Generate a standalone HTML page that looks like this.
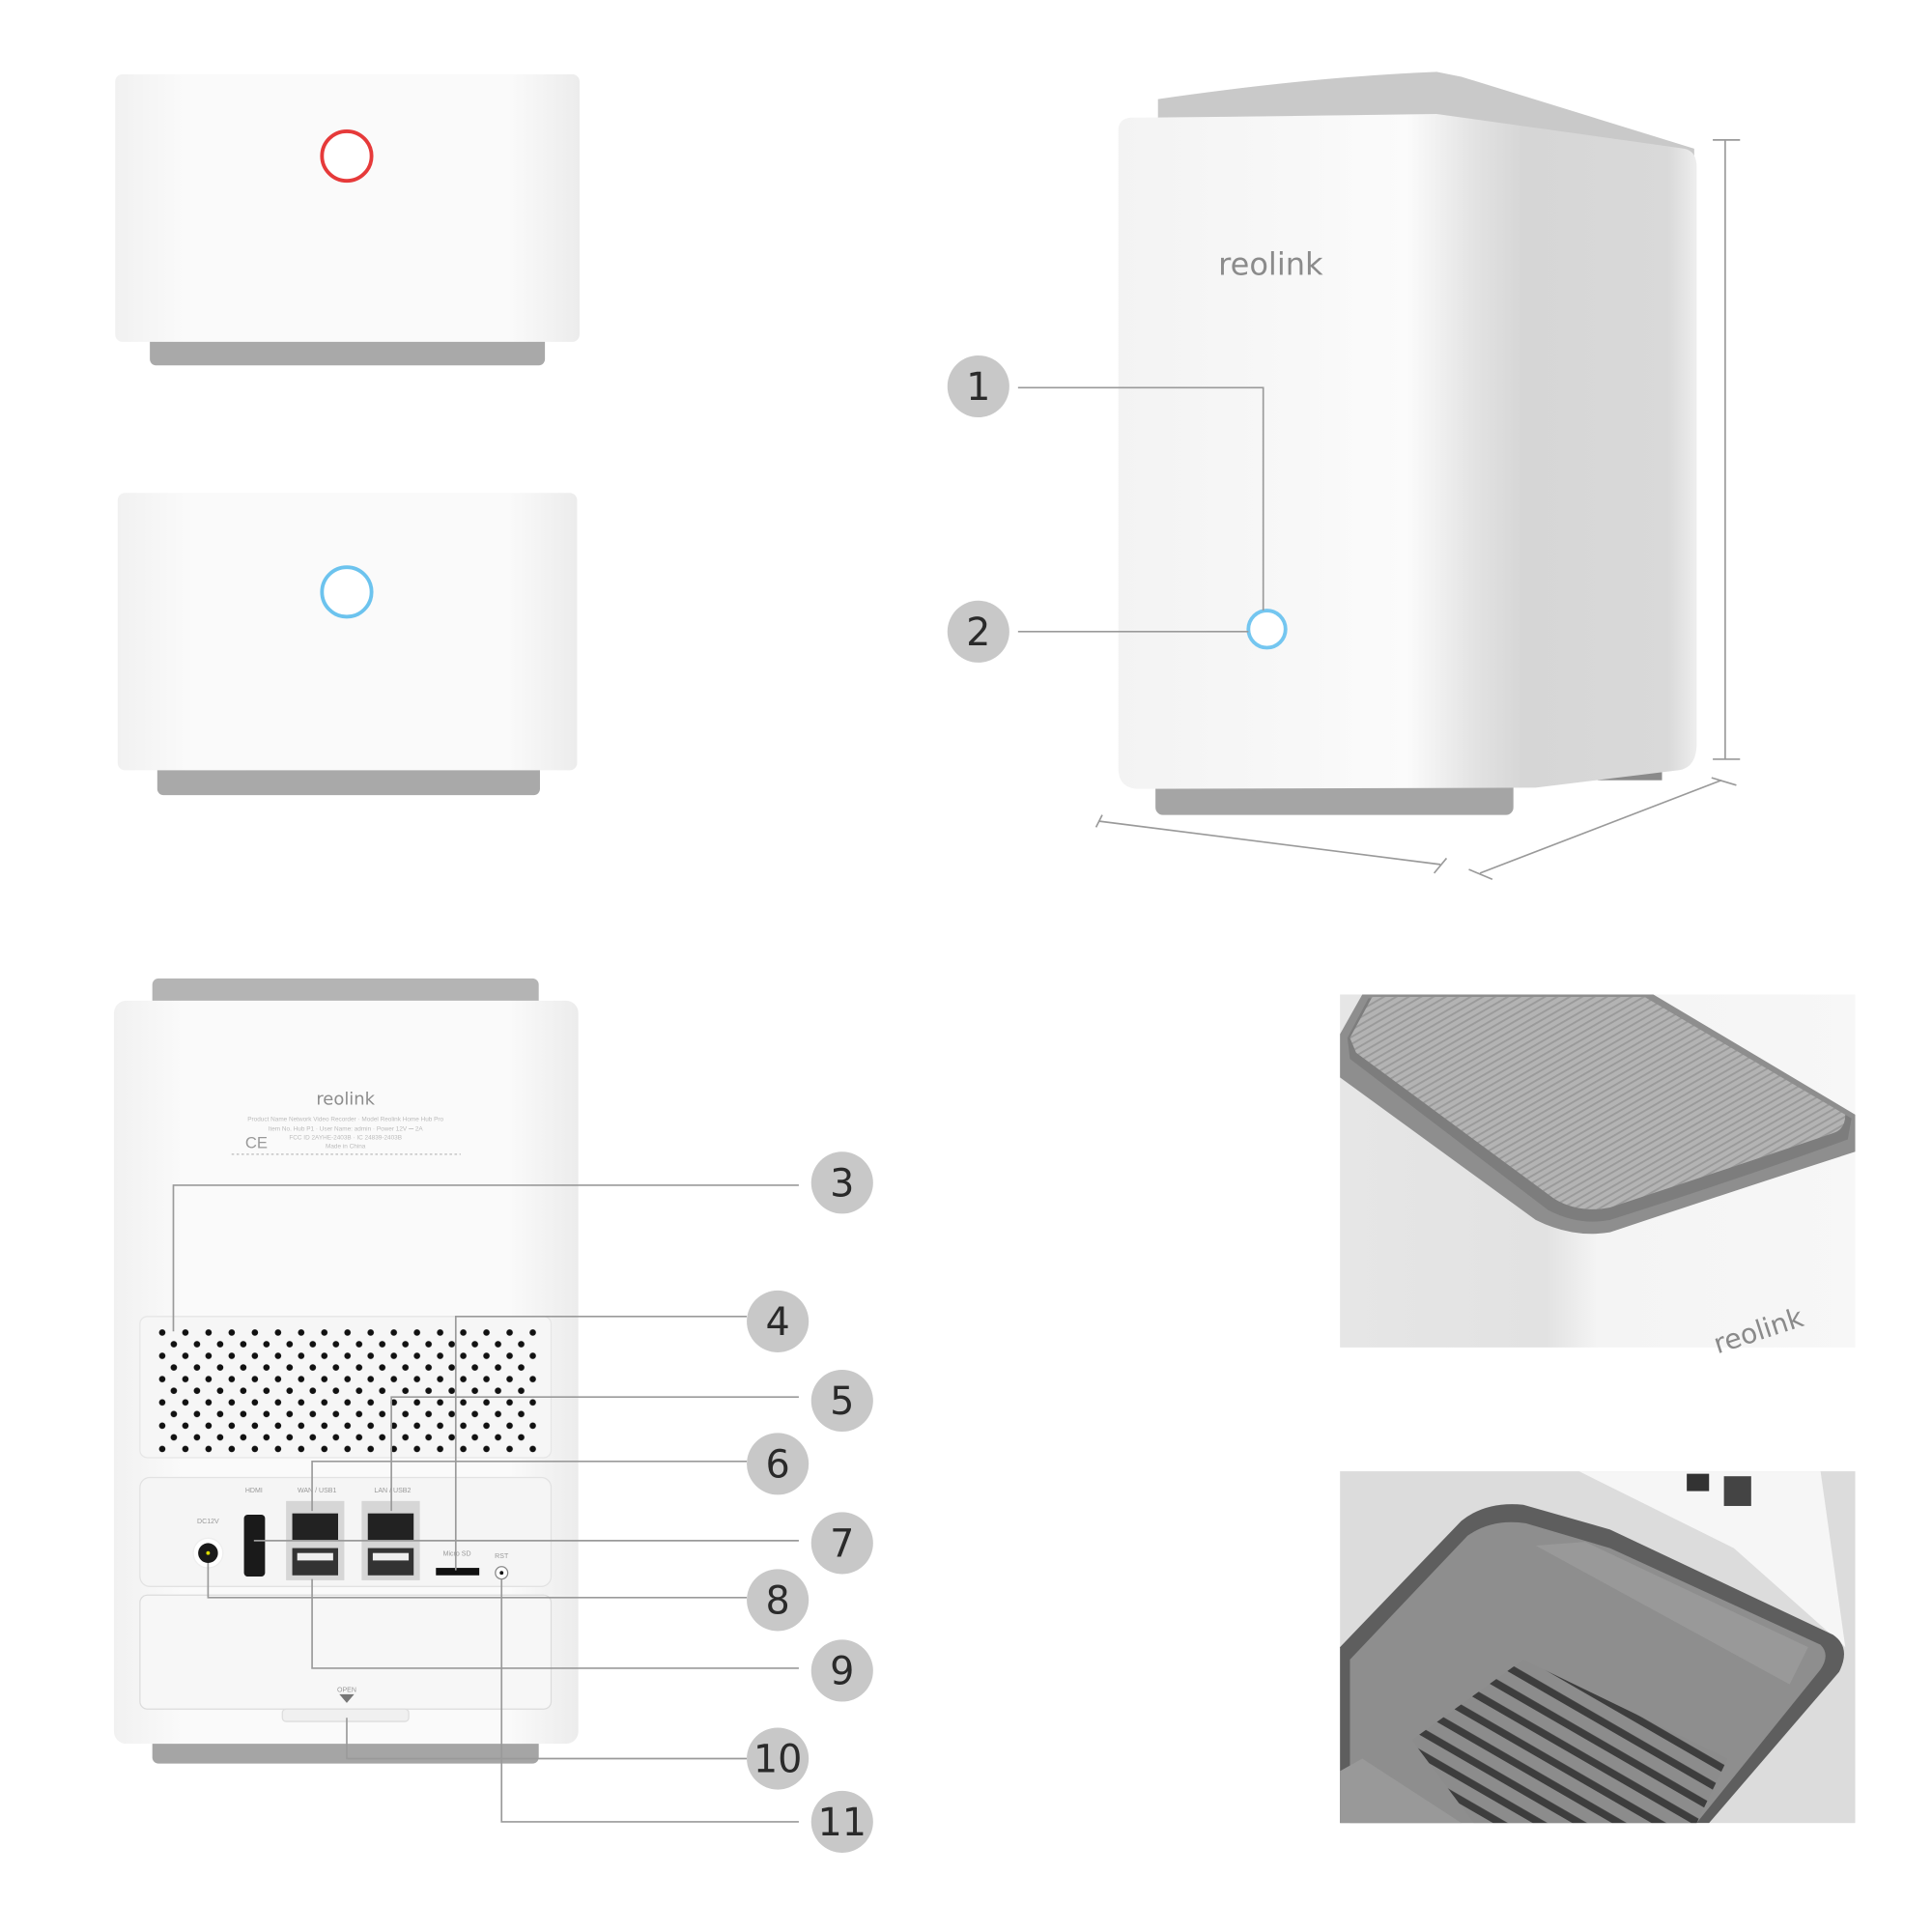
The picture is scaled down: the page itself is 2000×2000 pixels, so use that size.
<!DOCTYPE html>
<html><head><meta charset="utf-8"><style>html,body{margin:0;padding:0;background:#fff}svg{display:block}</style></head>
<body>
<svg width="2000" height="2000" viewBox="0 0 1560 1560" xmlns="http://www.w3.org/2000/svg" font-family="Liberation Sans, sans-serif">
<defs>
<linearGradient id="bx" x1="0" x2="1"><stop offset="0" stop-color="#f1f1f1"/><stop offset="0.15" stop-color="#fafafa"/><stop offset="0.85" stop-color="#fafafa"/><stop offset="1" stop-color="#ececec"/></linearGradient>
<linearGradient id="bigF" x1="0" x2="1"><stop offset="0" stop-color="#f3f3f3"/><stop offset="0.5" stop-color="#fbfbfb"/><stop offset="0.62" stop-color="#e2e2e2"/><stop offset="0.7" stop-color="#d6d6d6"/><stop offset="0.95" stop-color="#d9d9d9"/><stop offset="1" stop-color="#eeeeee"/></linearGradient>
<linearGradient id="ph1" x1="0" x2="1"><stop offset="0" stop-color="#e6e6e6"/><stop offset="0.4" stop-color="#e2e2e2"/><stop offset="0.5" stop-color="#f4f4f4"/><stop offset="1" stop-color="#f7f7f7"/></linearGradient>
<pattern id="dots" width="18.7" height="18.8" patternUnits="userSpaceOnUse" x="128" y="1073">
<circle cx="3" cy="3" r="2.6" fill="#111"/><circle cx="12.35" cy="12.4" r="2.6" fill="#111"/></pattern>
<pattern id="stripe" width="5" height="5" patternUnits="userSpaceOnUse" patternTransform="rotate(60)"><rect width="5" height="5" fill="#b3b3b3"/><rect width="1.5" height="5" fill="#9a9a9a"/></pattern>
<pattern id="bars" width="16" height="16" patternUnits="userSpaceOnUse" patternTransform="rotate(-60)"><rect width="16" height="16" fill="#8c8c8c"/><rect width="6" height="16" fill="#3d3d3d"/></pattern>
</defs>

<!-- Box 1 -->
<rect x="121" y="270" width="319" height="25" rx="5" fill="#a9a9a9"/>
<rect x="93" y="60" width="375" height="216" rx="6" fill="url(#bx)"/>
<circle cx="280" cy="126" r="20" fill="#fff" stroke="#e63a3a" stroke-width="3"/>
<!-- Box 2 -->
<rect x="127" y="616" width="309" height="26" rx="5" fill="#a9a9a9"/>
<rect x="95" y="398" width="371" height="224" rx="6" fill="url(#bx)"/>
<circle cx="280" cy="478" r="20" fill="#fff" stroke="#6cc3ee" stroke-width="3"/>

<!-- Big device -->
<path d="M935 100 L935 80 Q1060 62 1160 58 L1180 62 L1368 120 L1368 135 Z" fill="#c9c9c9"/>
<rect x="1290" y="600" width="52" height="30" fill="#8a8a8a"/>
<rect x="933" y="630" width="289" height="28" rx="6" fill="#a5a5a5"/>
<path d="M913 95 Q1030 94 1160 92 L1360 120 Q1370 122 1370 135 L1370 600 Q1370 620 1355 622 L1240 636 L920 637 Q903 637 903 620 L903 105 Q903 96 913 95 Z" fill="url(#bigF)"/>
<text x="1026" y="222" font-size="25" fill="#8b8b8b" text-anchor="middle" font-family="DejaVu Sans, sans-serif">reolink</text>
<circle cx="1023" cy="508" r="15" fill="#fff" stroke="#74c6f0" stroke-width="3"/>
<g stroke="#9a9a9a" stroke-width="1.3" fill="none">
<path d="M822 313 H1020 V493"/><path d="M822 510 H1008"/>
<path d="M1393 113 V613 M1383 113 H1405 M1383 613 H1405"/>
<path d="M887 663 L1163 698 M885 668 L890 658 M1158 705 L1168 693"/>
<path d="M1195 705 L1390 630 M1186 702 L1205 710 M1382 628 L1402 634"/>
</g>
<g font-family="DejaVu Sans, sans-serif" font-size="31" fill="#2a2a2a" text-anchor="middle">
<circle cx="790" cy="312" r="25" fill="#c8c8c8"/><text x="790" y="323">1</text>
<circle cx="790" cy="510" r="25" fill="#c8c8c8"/><text x="790" y="521">2</text>
</g>

<!-- Back view -->
<rect x="123" y="790" width="312" height="25" rx="5" fill="#b4b4b4"/>
<rect x="123" y="1400" width="312" height="24" rx="5" fill="#a5a5a5"/>
<rect x="92" y="808" width="375" height="600" rx="10" fill="url(#bx)"/>
<text x="279" y="892" font-size="14" fill="#8d8d8d" text-anchor="middle" font-family="DejaVu Sans, sans-serif">reolink</text>
<g font-size="5" fill="#bbb" text-anchor="middle"><text x="279" y="905">Product Name Network Video Recorder · Model Reolink Home Hub Pro</text>
<text x="279" y="913">Item No. Hub P1 · User Name: admin · Power 12V ⎓ 2A</text><text x="279" y="920">FCC ID 2AYHE-2403B · IC 24839-2403B</text><text x="279" y="927">Made in China</text></g>
<text x="198" y="927" font-size="13" fill="#999">CE</text>
<line x1="187" y1="932" x2="372" y2="932" stroke="#bbb" stroke-dasharray="2 2"/>
<rect x="113" y="1063" width="332" height="114" rx="6" fill="#f6f6f6" stroke="#e6e6e6"/>
<rect x="126" y="1070" width="307" height="104" fill="url(#dots)"/>
<rect x="113" y="1193" width="332" height="88" rx="8" fill="#f5f5f5" stroke="#e2e2e2"/>
<rect x="113" y="1288" width="332" height="92" rx="6" fill="#f7f7f7" stroke="#dcdcdc"/>
<rect x="228" y="1380" width="102" height="10" rx="3" fill="#f0f0f0" stroke="#ddd"/>
<g font-size="5.5" fill="#999" text-anchor="middle"><text x="205" y="1205">HDMI</text><text x="256" y="1205">WAN / USB1</text><text x="317" y="1205">LAN / USB2</text><text x="168" y="1230">DC12V</text><text x="369" y="1256">Micro SD</text><text x="405" y="1258">RST</text><text x="280" y="1366">OPEN</text></g>
<path d="M274 1368 L286 1368 L280 1375 Z" fill="#777"/>
<circle cx="168" cy="1254" r="12" fill="#fff" stroke="#eee"/><circle cx="168" cy="1254" r="8" fill="#1a1a1a"/><circle cx="168" cy="1254" r="1.5" fill="#dd0"/>
<rect x="197" y="1223" width="17" height="50" rx="3" fill="#1a1a1a"/>
<rect x="231" y="1212" width="47" height="64" fill="#d6d6d6"/><rect x="236" y="1222" width="37" height="22" fill="#222"/><rect x="236" y="1250" width="37" height="22" fill="#333"/><rect x="240" y="1254" width="29" height="6" fill="#eee"/>
<rect x="292" y="1212" width="47" height="64" fill="#d6d6d6"/><rect x="297" y="1222" width="37" height="22" fill="#222"/><rect x="297" y="1250" width="37" height="22" fill="#333"/><rect x="301" y="1254" width="29" height="6" fill="#eee"/>
<rect x="352" y="1266" width="35" height="6" fill="#111"/>
<circle cx="405" cy="1270" r="5" fill="#fff" stroke="#888"/><circle cx="405" cy="1270" r="1.5" fill="#111"/>
<g stroke="#9a9a9a" stroke-width="1.3" fill="none">
<path d="M645 957 H140 V1075"/>
<path d="M603 1063 H368 V1268"/>
<path d="M645 1128 H316 V1220"/>
<path d="M603 1180 H252 V1220"/>
<path d="M645 1244 H205"/>
<path d="M603 1290 H168 V1262"/>
<path d="M645 1347 H252 V1275"/>
<path d="M603 1420 H280 V1387"/>
<path d="M645 1471 H405 V1275"/>
</g>
<g font-family="DejaVu Sans, sans-serif" font-size="31" fill="#2a2a2a" text-anchor="middle">
<circle cx="680" cy="955" r="25" fill="#c8c8c8"/><text x="680" y="966">3</text>
<circle cx="628" cy="1067" r="25" fill="#c8c8c8"/><text x="628" y="1078">4</text>
<circle cx="680" cy="1131" r="25" fill="#c8c8c8"/><text x="680" y="1142">5</text>
<circle cx="628" cy="1182" r="25" fill="#c8c8c8"/><text x="628" y="1193">6</text>
<circle cx="680" cy="1246" r="25" fill="#c8c8c8"/><text x="680" y="1257">7</text>
<circle cx="628" cy="1292" r="25" fill="#c8c8c8"/><text x="628" y="1303">8</text>
<circle cx="680" cy="1349" r="25" fill="#c8c8c8"/><text x="680" y="1360">9</text>
<circle cx="628" cy="1420" r="25" fill="#c8c8c8"/><text x="628" y="1431">10</text>
<circle cx="680" cy="1471" r="25" fill="#c8c8c8"/><text x="680" y="1482">11</text>
</g>

<!-- Photo top -->
<rect x="1082" y="803" width="416" height="285" fill="url(#ph1)"/>
<path d="M1082 835 L1100 803 L1335 803 L1498 900 L1498 930 Q1420 955 1300 995 Q1270 1000 1240 985 L1082 870 Z" fill="#8e8e8e"/>
<path d="M1088 838 L1105 806 L1330 806 L1495 903 L1492 920 Q1410 950 1300 985 Q1275 990 1250 977 L1090 855 Z" fill="#7d7d7d"/>
<path d="M1090 838 L1108 805 L1328 805 L1490 900 Q1490 912 1480 915 Q1400 942 1300 975 Q1275 980 1255 968 L1095 850 Z" fill="url(#stripe)"/>
<text x="1420" y="1082" font-size="22" fill="#8a8a8a" text-anchor="middle" transform="rotate(-18 1420 1075)" font-family="DejaVu Sans, sans-serif">reolink</text>

<!-- Photo bottom -->
<rect x="1082" y="1188" width="416" height="284" fill="#dcdcdc"/>
<path d="M1275 1188 L1470 1188 L1490 1330 L1400 1250 Z" fill="#f6f6f6"/>
<rect x="1362" y="1190" width="18" height="14" fill="#333"/><rect x="1392" y="1192" width="22" height="24" fill="#444"/>
<path d="M1082 1330 L1180 1228 Q1200 1212 1230 1215 L1300 1235 L1480 1320 Q1495 1330 1485 1350 L1380 1472 L1082 1472 Z" fill="#5e5e5e"/>
<path d="M1090 1340 L1185 1240 Q1205 1226 1232 1230 L1300 1250 L1470 1328 Q1478 1336 1470 1348 L1370 1472 L1090 1472 Z" fill="#8e8e8e"/>
<path d="M1240 1248 L1280 1245 L1460 1330 L1445 1360 Z" fill="#999"/>
<path d="M1140 1405 L1230 1340 L1395 1420 L1370 1472 L1190 1472 Z" fill="url(#bars)"/>
<path d="M1082 1430 L1100 1420 L1180 1472 L1082 1472 Z" fill="#999"/>
</svg>
</body></html>
